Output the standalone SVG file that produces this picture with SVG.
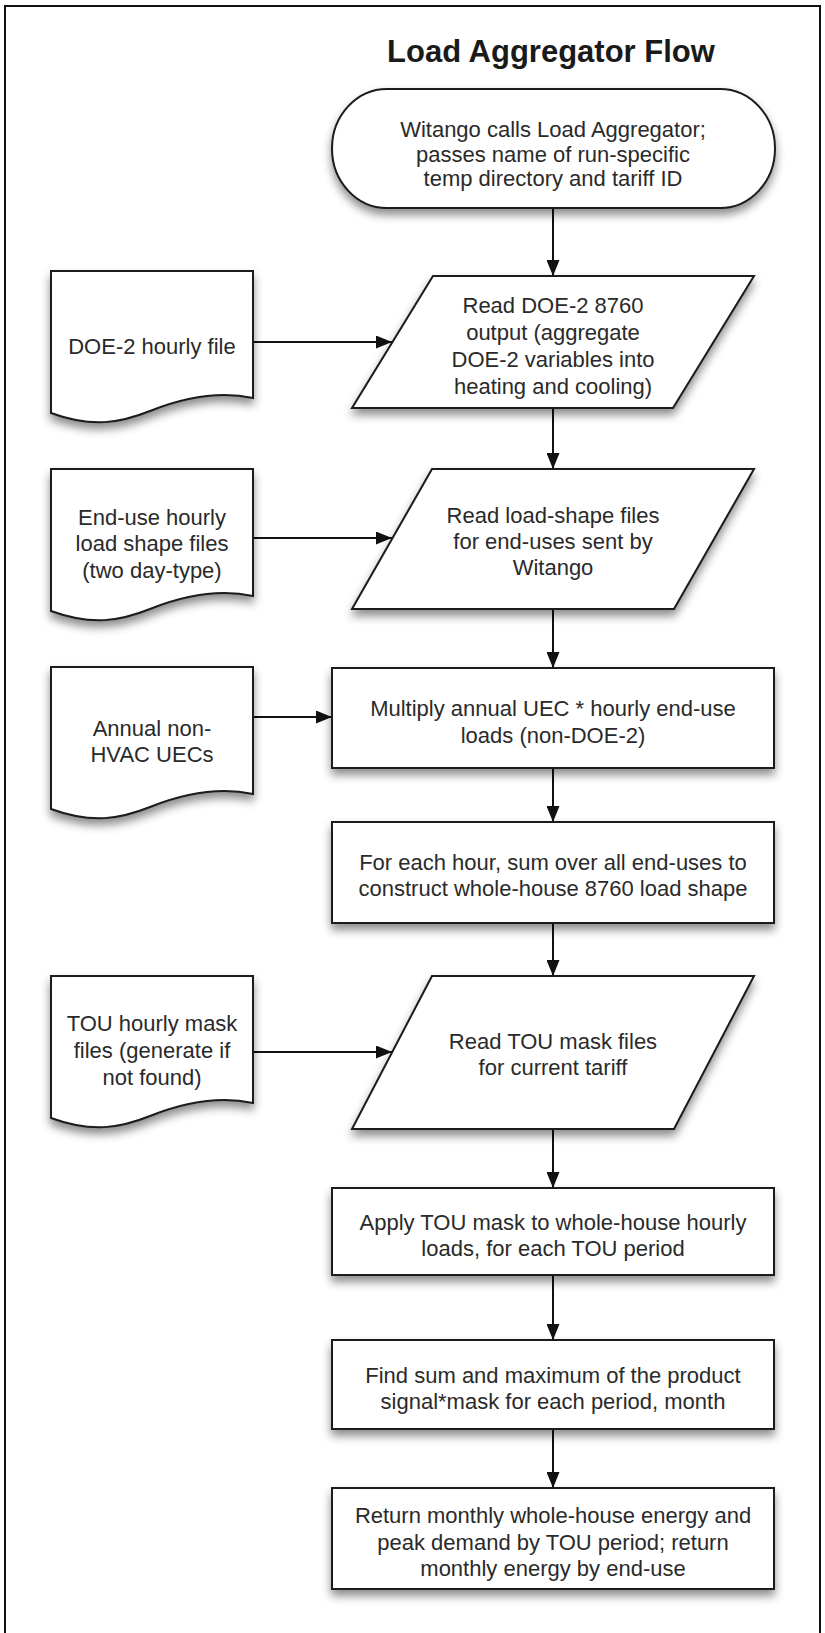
<svg xmlns="http://www.w3.org/2000/svg" width="825" height="1633" viewBox="0 0 825 1633">
<style>
.shape{fill:#fff;stroke:#1a1a1a;stroke-width:2;filter:url(#shadow)}
.t{font-family:"Liberation Sans",Arial,sans-serif;font-size:22px;fill:#2a2a2a;text-anchor:middle}
.title{font-family:"Liberation Sans",Arial,sans-serif;font-size:31px;font-weight:bold;fill:#1a1a1a;text-anchor:middle}
.conn{stroke:#111;stroke-width:2;fill:none;marker-end:url(#arrow)}
</style>
<defs>
<filter id="shadow" x="-20%" y="-20%" width="140%" height="150%">
<feDropShadow dx="0" dy="6" stdDeviation="5" flood-color="#000" flood-opacity="0.45"/>
</filter>
<marker id="arrow" markerUnits="userSpaceOnUse" markerWidth="16" markerHeight="13" refX="16" refY="6.5" orient="auto">
<path d="M0,0 L16,6.5 L0,13 z" fill="#111"/>
</marker>
<path id="docShape" d="M51,0 H253 V127 C225,121 190,124 150,140 C120,152 92,157 51,142 Z"/>
</defs>
<rect width="825" height="1633" fill="#fff"/>
<path d="M5,1633 V6 H820 V1633" fill="none" stroke="#111" stroke-width="2"/>
<text class="title" x="551" y="62">Load Aggregator Flow</text>

<g id="connectors">
<line class="conn" x1="553" y1="208" x2="553" y2="276"/>
<line class="conn" x1="553" y1="408" x2="553" y2="469"/>
<line class="conn" x1="553" y1="609" x2="553" y2="668"/>
<line class="conn" x1="553" y1="768" x2="553" y2="822"/>
<line class="conn" x1="553" y1="923" x2="553" y2="976"/>
<line class="conn" x1="553" y1="1129" x2="553" y2="1188"/>
<line class="conn" x1="553" y1="1275" x2="553" y2="1340"/>
<line class="conn" x1="553" y1="1429" x2="553" y2="1488"/>
<line class="conn" x1="253" y1="342" x2="392" y2="342"/>
<line class="conn" x1="253" y1="538" x2="392" y2="538"/>
<line class="conn" x1="253" y1="717" x2="332" y2="717"/>
<line class="conn" x1="253" y1="1052" x2="392" y2="1052"/>
</g>

<g id="start">
<rect class="shape" x="332" y="89" width="443" height="119" rx="55" ry="59.5"/>
<text class="t" x="553" y="137">Witango calls Load Aggregator;</text>
<text class="t" x="553" y="161.5">passes name of run-specific</text>
<text class="t" x="553" y="186">temp directory and tariff ID</text>
</g>

<g id="doe2-file">
<use href="#docShape" class="shape" transform="translate(0,271)"/>
<text class="t" x="152" y="354">DOE-2 hourly file</text>
</g>

<g id="read-doe2">
<polygon class="shape" points="433,276 754,276 673,408 352,408"/>
<text class="t" x="553" y="313">Read DOE-2  8760</text>
<text class="t" x="553" y="340">output (aggregate</text>
<text class="t" x="553" y="367">DOE-2 variables into</text>
<text class="t" x="553" y="394">heating and cooling)</text>
</g>

<g id="enduse-files">
<use href="#docShape" class="shape" transform="translate(0,469)"/>
<text class="t" x="152" y="525">End-use hourly</text>
<text class="t" x="152" y="551">load shape files</text>
<text class="t" x="152" y="578">(two day-type)</text>
</g>

<g id="read-loadshape">
<polygon class="shape" points="432,469 754,469 674,609 352,609"/>
<text class="t" x="553" y="523">Read load-shape files</text>
<text class="t" x="553" y="549">for end-uses sent by</text>
<text class="t" x="553" y="575">Witango</text>
</g>

<g id="annual-uecs">
<use href="#docShape" class="shape" transform="translate(0,667)"/>
<text class="t" x="152" y="736">Annual non-</text>
<text class="t" x="152" y="762">HVAC UECs</text>
</g>

<g id="multiply">
<rect class="shape" x="332" y="668" width="442" height="100"/>
<text class="t" x="553" y="716">Multiply annual UEC * hourly end-use</text>
<text class="t" x="553" y="743">loads (non-DOE-2)</text>
</g>

<g id="sum-hour">
<rect class="shape" x="332" y="822" width="442" height="101"/>
<text class="t" x="553" y="870">For each hour, sum over all end-uses to</text>
<text class="t" x="553" y="896">construct whole-house 8760 load shape</text>
</g>

<g id="tou-files">
<use href="#docShape" class="shape" transform="translate(0,976)"/>
<text class="t" x="152" y="1031">TOU hourly mask</text>
<text class="t" x="152" y="1058">files (generate if</text>
<text class="t" x="152" y="1085">not found)</text>
</g>

<g id="read-tou">
<polygon class="shape" points="432,976 754,976 674,1129 352,1129"/>
<text class="t" x="553" y="1049">Read TOU mask files</text>
<text class="t" x="553" y="1075">for current tariff</text>
</g>

<g id="apply-tou">
<rect class="shape" x="332" y="1188" width="442" height="87"/>
<text class="t" x="553" y="1230">Apply TOU mask to whole-house hourly</text>
<text class="t" x="553" y="1256">loads, for each TOU period</text>
</g>

<g id="find-sum">
<rect class="shape" x="332" y="1340" width="442" height="89"/>
<text class="t" x="553" y="1383">Find sum and maximum of the product</text>
<text class="t" x="553" y="1409">signal*mask for each period, month</text>
</g>

<g id="return">
<rect class="shape" x="332" y="1488" width="442" height="101"/>
<text class="t" x="553" y="1523">Return monthly whole-house energy and</text>
<text class="t" x="553" y="1550">peak demand by TOU period; return</text>
<text class="t" x="553" y="1576">monthly energy by end-use</text>
</g>
</svg>
